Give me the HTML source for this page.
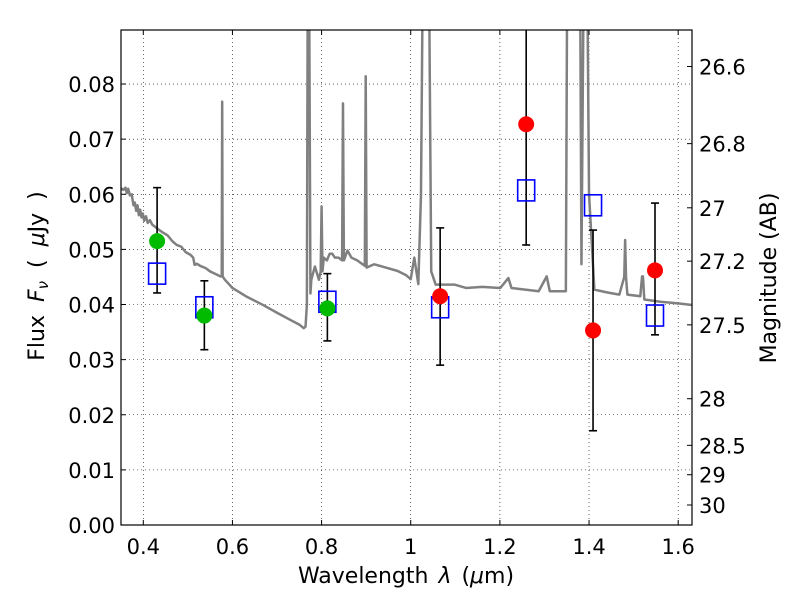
<!DOCTYPE html>
<html><head><meta charset="utf-8"><style>
html,body{margin:0;padding:0;background:#fff;}
svg{display:block;font-family:"DejaVu Sans","Liberation Sans",sans-serif;}
</style></head><body>
<svg id="chart" width="800" height="600" viewBox="0 0 800 600" xmlns="http://www.w3.org/2000/svg">
<rect x="0" y="0" width="800" height="600" fill="#fff"/>
<defs><clipPath id="pa"><rect x="121" y="30" width="571" height="495"/></clipPath></defs>
<g id="grid"></g>
<g id="plot" clip-path="url(#pa)"></g>
<rect x="121" y="30" width="571" height="495" fill="none" stroke="#000" stroke-width="1.2"/>
<g id="axes"></g>
<text x="406" y="583" font-size="22" text-anchor="middle" word-spacing="3">Wavelength  <tspan font-style="italic">λ</tspan> (<tspan font-style="italic">μ</tspan>m)</text>
<text transform="translate(44,276) rotate(-90)" font-size="22" text-anchor="middle" word-spacing="6">Flux  <tspan font-style="italic">F</tspan><tspan font-style="italic" font-size="15" dy="4">ν</tspan><tspan dy="-4">  (  </tspan><tspan font-style="italic">μ</tspan>Jy )</text>
<text transform="translate(776,278) rotate(-90)" font-size="22" text-anchor="middle">Magnitude (AB)</text>
</svg>
<script>
const xTicks=[0.4,0.6,0.8,1.0,1.2,1.4,1.6];
const xTickLabels=["0.4","0.6","0.8","1","1.2","1.4","1.6"];
const yTicks=[0,0.01,0.02,0.03,0.04,0.05,0.06,0.07,0.08];
const yTickLabels=["0.00","0.01","0.02","0.03","0.04","0.05","0.06","0.07","0.08"];
const magTicks=[26.6,26.8,27,27.2,27.5,28,28.5,29,30];
const magTickLabels=["26.6","26.8","27","27.2","27.5","28","28.5","29","30"];
const specWave=[0.350,0.355,0.360,0.363,0.366,0.370,0.374,0.378,0.381,0.384,0.387,0.390,0.393,0.396,0.399,0.402,0.406,0.410,0.415,0.420,0.428,0.436,0.445,0.455,0.465,0.475,0.485,0.495,0.506,0.512,0.515,0.520,0.528,0.540,0.550,0.558,0.573,0.576,0.577,0.578,0.583,0.600,0.630,0.669,0.700,0.730,0.751,0.760,0.764,0.767,0.769,0.772,0.775,0.777,0.785,0.794,0.798,0.800,0.802,0.805,0.812,0.818,0.824,0.830,0.838,0.846,0.848,0.850,0.858,0.867,0.880,0.897,0.899,0.901,0.918,0.940,0.970,0.990,1.000,1.008,1.017,1.023,1.027,1.041,1.046,1.056,1.099,1.124,1.160,1.201,1.219,1.226,1.287,1.305,1.312,1.348,1.351,1.355,1.380,1.383,1.388,1.396,1.400,1.412,1.440,1.468,1.479,1.481,1.483,1.486,1.515,1.519,1.521,1.524,1.560,1.600,1.631];
const specFlux=[0.0611,0.0608,0.0612,0.0602,0.0610,0.0598,0.0600,0.0580,0.0585,0.0570,0.0580,0.0562,0.0572,0.0558,0.0565,0.0552,0.0560,0.0548,0.0553,0.0545,0.0540,0.0535,0.0530,0.0525,0.0515,0.0508,0.0505,0.0495,0.0490,0.0485,0.0472,0.0474,0.0470,0.0466,0.0460,0.0457,0.0451,0.0451,0.0768,0.0451,0.0445,0.0430,0.0415,0.0399,0.0385,0.0372,0.0363,0.0357,0.0360,0.0400,0.1,0.1,0.0420,0.0445,0.0469,0.0445,0.0460,0.0578,0.0460,0.0485,0.0480,0.0492,0.0492,0.0485,0.0485,0.0480,0.0765,0.0480,0.0498,0.0485,0.0480,0.0470,0.0814,0.0467,0.0473,0.0468,0.0461,0.0453,0.0446,0.0485,0.0437,0.0600,0.1,0.1,0.0460,0.0436,0.0436,0.0430,0.0432,0.0430,0.0448,0.0430,0.0424,0.0451,0.0424,0.0424,0.1,0.1,0.1,0.0473,0.1,0.1,0.06,0.0427,0.0422,0.0418,0.045,0.0517,0.045,0.0418,0.0415,0.0451,0.0451,0.0409,0.0405,0.0402,0.0399];
const greenWave=[0.431,0.537,0.813];
const greenFlux=[0.0515,0.038,0.0393];
const redWave=[1.066,1.259,1.409,1.548];
const redFlux=[0.0415,0.0727,0.0353,0.0462];
const errWave=[0.431,0.537,0.813,1.066,1.259,1.409,1.548];
const errLow=[0.0421,0.0318,0.0334,0.029,0.0508,0.0171,0.0345];
const errHigh=[0.0612,0.0443,0.0456,0.0539,0.095,0.0535,0.0584];
const boxWave=[0.431,0.537,0.813,1.066,1.259,1.409,1.548];
const boxFlux=[0.0456,0.0395,0.0405,0.0395,0.0607,0.058,0.038];

const X0=121,X1=692,Y0=525,Y1=30,xmin=0.35,xmax=1.631,ymin=0,ymax=0.0898;
const sx=v=>X0+(v-xmin)/(xmax-xmin)*(X1-X0);
const sy=v=>Y0-(v-ymin)/(ymax-ymin)*(Y0-Y1);
const magY=m=>sy(Math.pow(10,(23.9-m)/2.5));
const NS="http://www.w3.org/2000/svg";
function mk(parent,tag,attrs,text){const e=document.createElementNS(NS,tag);for(const k in attrs)e.setAttribute(k,attrs[k]);if(text!==undefined)e.textContent=text;parent.appendChild(e);return e;}
const grid=document.getElementById('grid'),plot=document.getElementById('plot'),axes=document.getElementById('axes');
xTicks.forEach((t,i)=>{const x=sx(t);
 const g=mk(grid,'line',{x1:x,x2:x,y1:Y1,y2:Y0,stroke:'#000','stroke-width':0.6,'stroke-dasharray':'1,3'});
 
 
 const tk=mk(axes,'line',{x1:x,x2:x,y1:Y0,y2:Y0-5,stroke:'#000'});
 
 
 const tk2=mk(axes,'line',{x1:x,x2:x,y1:Y1,y2:Y1+5,stroke:'#000'});
 
 
 const l=mk(axes,'text',{x:x,y:Y0+29,'font-size':21,'text-anchor':'middle'},xTickLabels[i]);
 
 });
yTicks.forEach((t,i)=>{const y=sy(t);
 const g=mk(grid,'line',{x1:X0,x2:X1,y1:y,y2:y,stroke:'#000','stroke-width':0.6,'stroke-dasharray':'1,3'});
 
 
 const tk=mk(axes,'line',{x1:X0,x2:X0+5,y1:y,y2:y,stroke:'#000'});
 
 
 const l=mk(axes,'text',{x:X0-6,y:y+8,'font-size':21,'text-anchor':'end'},yTickLabels[i]);
 
 });
magTicks.forEach((m,i)=>{const y=magY(m);
 const tk=mk(axes,'line',{x1:X1,x2:X1-5,y1:y,y2:y,stroke:'#000'});
 
 
 const l=mk(axes,'text',{x:X1+7,y:y+8,'font-size':21,'text-anchor':'start'},magTickLabels[i]);
 
 });
const sp=mk(plot,'polyline',{points:specWave.map((w,i)=>sx(w)+','+sy(specFlux[i])).join(' '),fill:'none',stroke:'#808080','stroke-width':2.5,'stroke-linejoin':'round'});


errWave.forEach((w,i)=>{const x=sx(w),a=sy(errLow[i]),b=sy(errHigh[i]);
 const g=mk(plot,'g',{stroke:'#000','stroke-width':1.6});
 
 
 mk(g,'line',{x1:x,x2:x,y1:a,y2:b});mk(g,'line',{x1:x-4,x2:x+4,y1:a,y2:a});mk(g,'line',{x1:x-4,x2:x+4,y1:b,y2:b});});
boxWave.forEach((w,i)=>{const r=mk(plot,'rect',{x:sx(w)-8.5,y:sy(boxFlux[i])-10.5,width:17,height:21,fill:'none',stroke:'#0000ff','stroke-width':1.6});
 
 });
greenWave.forEach((w,i)=>{const c=mk(plot,'circle',{cx:sx(w),cy:sy(greenFlux[i]),r:8,fill:'#00bb00'});
 
 });
redWave.forEach((w,i)=>{const c=mk(plot,'circle',{cx:sx(w),cy:sy(redFlux[i]),r:8,fill:'#ff0000'});
 
 });
</script>
</body></html>
